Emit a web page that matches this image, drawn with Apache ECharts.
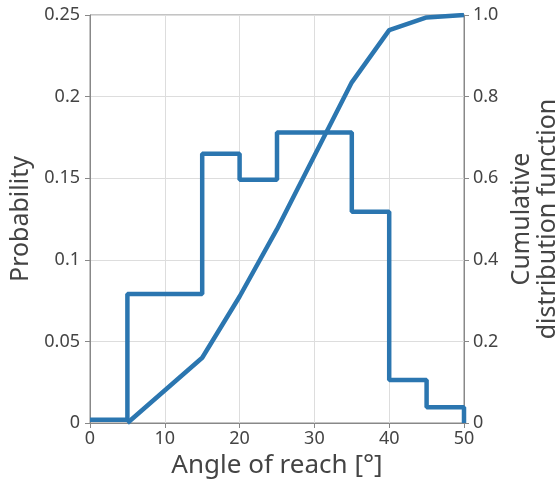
<!DOCTYPE html>
<html><head><meta charset="utf-8">
<script src="https://cdn.jsdelivr.net/npm/echarts@6/dist/echarts.min.js"></script>
<style>html,body{margin:0;padding:0;background:#fff}#c{width:556px;height:481px}</style>
</head><body><div id="c"></div>
<script>
var binEdges = [0, 5, 15, 20, 25, 35, 40, 45, 50];
var probability = [0.002, 0.079, 0.165, 0.149, 0.178, 0.1295, 0.0263, 0.0096, 0];
var cdfX = [5, 15, 20, 25, 30, 35, 40, 45, 50];
var cdfY = [0, 0.16, 0.31, 0.475, 0.655, 0.835, 0.963, 0.994, 1.0];
var leftTicks = ['0', '0.05', '0.1', '0.15', '0.2', '0.25'];
var rightTicks = ['0', '0.2', '0.4', '0.6', '0.8', '1.0'];

var histData = binEdges.map(function (x, i) { return [x, probability[i]]; });
var cdfData = cdfX.map(function (x, i) { return [x, cdfY[i]]; });
var col = '#2b76b0';
var txt = '#444';
var font = 'Noto Sans';
var chart = echarts.init(document.getElementById('c'));
chart.setOption({
  animation: false,
  grid: { left: 90, right: 92, top: 15, bottom: 58, show: true, borderColor: '#888', borderWidth: 1,
          outerBoundsMode: 'none', containLabel: false },
  xAxis: {
    type: 'value', min: 0, max: 50, interval: 10,
    name: 'Angle of reach [°]', nameLocation: 'middle', nameGap: 29,
    nameTextStyle: { fontSize: 26, color: txt, fontFamily: font },
    axisLine: { show: true, lineStyle: { color: '#888' } },
    axisTick: { show: true, length: 5, lineStyle: { color: '#888' } },
    axisLabel: { fontSize: 18, color: txt, fontFamily: font, margin: 7 },
    splitLine: { show: true, lineStyle: { color: '#ddd' } }
  },
  yAxis: [{
    type: 'value', min: 0, max: 0.25, interval: 0.05,
    name: 'Probability', nameLocation: 'middle', nameGap: 50, nameRotate: 90,
    nameTextStyle: { fontSize: 25, color: txt, fontFamily: font },
    axisLine: { show: true, lineStyle: { color: '#888' } },
    axisTick: { show: true, length: 5, lineStyle: { color: '#888' } },
    axisLabel: { fontSize: 18, color: txt, fontFamily: font, margin: 10,
      formatter: function (v) { return leftTicks[Math.round(v / 0.05)]; } },
    splitLine: { show: true, lineStyle: { color: '#ddd' } }
  }, {
    type: 'value', min: 0, max: 1, interval: 0.2, position: 'right',
    name: 'Cumulative\ndistribution function', nameLocation: 'middle', nameGap: 39, nameRotate: 90,
    nameTextStyle: { fontSize: 25, color: txt, fontFamily: font, lineHeight: 26 },
    axisLine: { show: true, lineStyle: { color: '#888' } },
    axisTick: { show: true, length: 5, lineStyle: { color: '#888' } },
    axisLabel: { fontSize: 18, color: txt, fontFamily: font, margin: 9,
      formatter: function (v) { return rightTicks[Math.round(v / 0.2)]; } },
    splitLine: { show: false }
  }],
  series: [{
    type: 'line', step: 'end', yAxisIndex: 0, data: histData, symbol: 'none',
    lineStyle: { color: col, width: 4.5 }
  }, {
    type: 'line', yAxisIndex: 1, data: cdfData, symbol: 'none',
    lineStyle: { color: col, width: 4.5 }
  }]
});
</script></body></html>
